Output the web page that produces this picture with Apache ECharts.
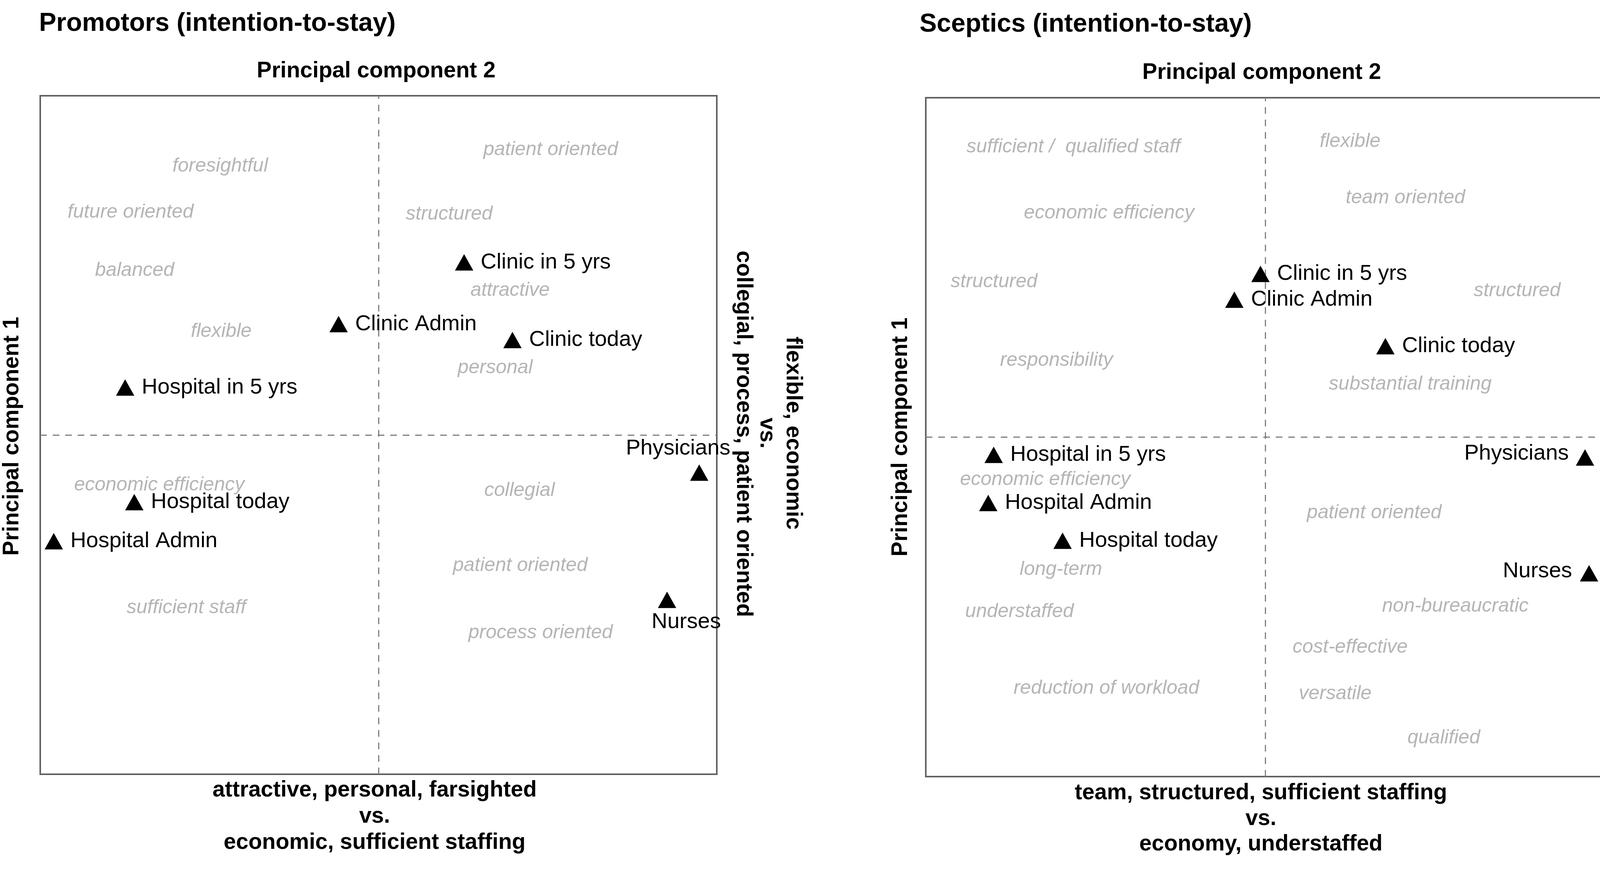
<!DOCTYPE html>
<html>
<head>
<meta charset="utf-8">
<script src="https://cdn.jsdelivr.net/npm/echarts@6/dist/echarts.min.js"></script>
<style>
html,body{margin:0;padding:0;background:#fff;overflow:hidden;}
#chart{width:4328px;height:2226px;}
</style>
</head>
<body>
<div id="chart"></div>
<script>
// ---------------- data ----------------
const groups = ['Clinic in 5 yrs','Clinic Admin','Clinic today','Hospital in 5 yrs','Physicians','Hospital today','Hospital Admin','Nurses'];

// Promotors (intention-to-stay)
const promotorsX = [0.253, -0.118, 0.396, -0.749, 0.948, -0.722, -0.960, 0.853];
const promotorsY = [0.509,  0.327, 0.280,  0.140, -0.111, -0.198, -0.313, -0.486];

// Sceptics (intention-to-stay)
const scepticsX = [-0.014, -0.091, 0.354, -0.800, 0.942, -0.597, -0.816, 0.954];
const scepticsY = [ 0.481,  0.405, 0.268, -0.052, -0.060, -0.305, -0.194, -0.401];

// attribute words (grey)
const promotorsWords = ['patient oriented','foresightful','future oriented','structured','balanced','attractive','flexible','personal','economic efficiency','collegial','patient oriented','sufficient staff','process oriented'];
const promotorsWordX = [0.509, -0.468, -0.733, 0.209, -0.721, 0.389, -0.465, 0.345, -0.648, 0.417, 0.419, -0.568, 0.479];
const promotorsWordY = [0.841,  0.793,  0.657, 0.651,  0.485, 0.426,  0.305, 0.198, -0.147, -0.164, -0.385, -0.509, -0.583];

const scepticsWords = ['sufficient /  qualified staff','flexible','team oriented','economic efficiency','structured','structured','responsibility','substantial training','economic efficiency','patient oriented','long-term','non-bureaucratic','understaffed','cost-effective','reduction of workload','versatile','qualified'];
const scepticsWordX = [-0.565, 0.250, 0.413, -0.460, -0.799, 0.742, -0.615, 0.427, -0.648, 0.321, -0.602, 0.560, -0.724, 0.250, -0.468, 0.206, 0.526];
const scepticsWordY = [ 0.855, 0.871, 0.705,  0.660,  0.458, 0.431,  0.226, 0.156, -0.125, -0.223, -0.390, -0.498, -0.514, -0.619, -0.740, -0.756, -0.886];

// texts
const panelTitles = ['Promotors (intention-to-stay)', 'Sceptics (intention-to-stay)'];
const topAxisTitle = 'Principal component 2';
const leftAxisTitle = 'Principal component 1';
const promotorsBottom = ['attractive, personal, farsighted', 'vs.', 'economic, sufficient staffing'];
const promotorsRight = ['flexible, economic', 'vs.', 'collegial, process, patient oriented'];
const scepticsBottom = ['team, structured, sufficient staffing', 'vs.', 'economy, understaffed'];
const scepticsRight = ['economic, long-term', 'vs.', 'flexible, patient oriented, qualification'];

// ---------------- styling ----------------
const FONT = '"Liberation Sans", Arial, Helvetica, sans-serif';
const BLACK_LABEL = {show:true, position:'right', distance:19, formatter:'{b}', color:'#000', fontSize:56, fontFamily:FONT, textBorderWidth:0, opacity:1};
const promotorsLabelOverride = {
  'Physicians': {position:'inside', offset:[-54,-62]},
  'Nurses': {position:'inside', offset:[49,57]}
};
const scepticsLabelOverride = {
  'Physicians': {position:'left', distance:18, offset:[0,-10]},
  'Nurses': {position:'left', distance:20, offset:[0,-5]}
};

function pointData(xs, ys, overrides) {
  return groups.map((g, i) => {
    const d = {name: g, value: [xs[i], ys[i]]};
    if (overrides[g]) d.label = Object.assign({}, overrides[g], {color:'#000', textBorderWidth:0});
    return d;
  });
}
function wordData(words, xs, ys) {
  return words.map((w, i) => ({name: w, value: [xs[i], ys[i]]}));
}

const dashedCross = {
  silent: true,
  symbol: ['none','none'],
  label: {show:false},
  lineStyle: {type:[17,15], color:'#808080', width:3, opacity:1},
  emphasis: {disabled:true},
  data: [{xAxis:0}, {yAxis:0}]
};

function pointSeries(idx, data) {
  return {
    type:'scatter', xAxisIndex:idx, yAxisIndex:idx, data:data,
    symbol:'triangle', symbolSize:[47,42], itemStyle:{color:'#000', opacity:1},
    label: BLACK_LABEL, clip:false, z:5, silent:true
  };
}
function wordSeries(idx, data) {
  return {
    type:'scatter', xAxisIndex:idx, yAxisIndex:idx, data:data,
    symbol:'circle', symbolSize:0.1, itemStyle:{color:'rgba(0,0,0,0)'},
    label:{show:true, position:'inside', formatter:'{b}', color:'#a3a3a3', fontSize:50,
           fontStyle:'italic', fontFamily:FONT, textBorderWidth:0},
    clip:false, z:3, silent:true, markLine: dashedCross
  };
}

function txt(text, x, y, font, align, rotation) {
  return {
    type:'text', x:x, y:y, rotation: rotation || 0, silent:true,
    style:{text:text, x:0, y:0, font:font, fill:'#000',
           textAlign:align, align:align, textVerticalAlign:'middle', verticalAlign:'middle'}
  };
}
const TITLE_FONT = 'bold 66px ' + FONT;
const AXIS_FONT = 'bold 57px ' + FONT;
const CW = -Math.PI/2, CCW = Math.PI/2;

const graphics = [
  txt(panelTitles[0], 100, 61, TITLE_FONT, 'left'),
  txt(panelTitles[1], 2354, 63, TITLE_FONT, 'left'),
  txt(topAxisTitle, 963, 182, AXIS_FONT, 'center'),
  txt(topAxisTitle, 3230, 186, AXIS_FONT, 'center'),
  txt(leftAxisTitle, 31, 1116, AXIS_FONT, 'center', CCW),
  txt(leftAxisTitle, 2306, 1118, AXIS_FONT, 'center', CCW),
  txt(promotorsBottom[0], 959, 2022, AXIS_FONT, 'center'),
  txt(promotorsBottom[1], 959, 2089, AXIS_FONT, 'center'),
  txt(promotorsBottom[2], 959, 2156, AXIS_FONT, 'center'),
  txt(scepticsBottom[0], 3228, 2029, AXIS_FONT, 'center'),
  txt(scepticsBottom[1], 3228, 2095, AXIS_FONT, 'center'),
  txt(scepticsBottom[2], 3228, 2160, AXIS_FONT, 'center'),
  txt(promotorsRight[0], 2030, 1108, AXIS_FONT, 'center', CW),
  txt(promotorsRight[1], 1963, 1108, AXIS_FONT, 'center', CW),
  txt(promotorsRight[2], 1903, 1110, AXIS_FONT, 'center', CW),
  txt(scepticsRight[0], 4293, 1112, AXIS_FONT, 'center', CW),
  txt(scepticsRight[1], 4225, 1115, AXIS_FONT, 'center', CW),
  txt(scepticsRight[2], 4150, 1114, AXIS_FONT, 'center', CW)
];

const axisCommon = {type:'value', min:-1, max:1, show:false};

const option = {
  animation:false,
  backgroundColor:'#fff',
  grid:[
    {left:103, top:245, width:1732, height:1736, show:true, borderColor:'#606060', borderWidth:4, backgroundColor:'transparent'},
    {left:2370, top:250, width:1738, height:1737, show:true, borderColor:'#606060', borderWidth:4, backgroundColor:'transparent'}
  ],
  xAxis:[Object.assign({gridIndex:0}, axisCommon), Object.assign({gridIndex:1}, axisCommon)],
  yAxis:[Object.assign({gridIndex:0}, axisCommon), Object.assign({gridIndex:1}, axisCommon)],
  series:[
    wordSeries(0, wordData(promotorsWords, promotorsWordX, promotorsWordY)),
    pointSeries(0, pointData(promotorsX, promotorsY, promotorsLabelOverride)),
    wordSeries(1, wordData(scepticsWords, scepticsWordX, scepticsWordY)),
    pointSeries(1, pointData(scepticsX, scepticsY, scepticsLabelOverride))
  ],
  graphic: graphics
};

const chart = echarts.init(document.getElementById('chart'), null, {renderer:'canvas'});
chart.setOption(option);
</script>
</body>
</html>
